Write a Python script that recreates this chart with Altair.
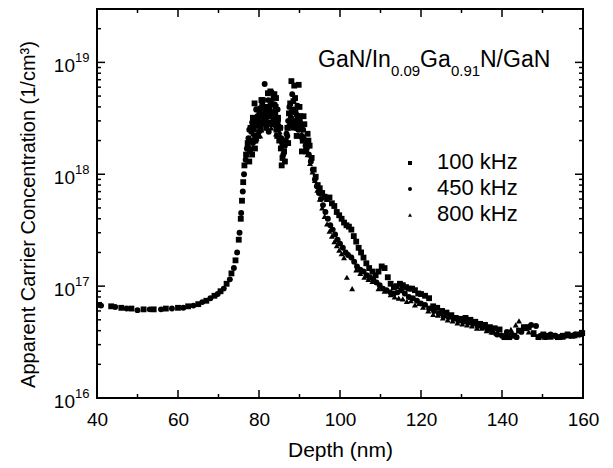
import altair as alt
import pandas as pd

FONT = "Liberation Sans"
W, H = 486, 389

series_names = ["100 kHz", "450 kHz", "800 kHz"]
series_shapes = ["square", "circle", "triangle-up"]

# 100 kHz (squares)
depth_100 = [40.5, 43.5, 46, 48.5, 51.5, 54, 57, 60, 62.5, 65, 67, 69, 70.5, 72, 73.2, 74.2, 75, 75.5, 75.8, 76.1,
             76.4, 76.8, 77.2, 77.6, 78, 78.3, 78.7, 79, 79.4, 79.7, 80.1, 80.4, 80.8, 81.1, 81.5, 81.8, 82.2, 82.5,
             82.9, 83.2, 83.6, 84, 84.3, 84.7, 85, 85.4, 85.8, 86.2, 86.6, 87, 87.4, 87.7, 88, 88.3, 88.7, 89, 89.3,
             89.7, 90, 90.4, 90.8, 91.2, 91.6, 92, 92.5, 93, 93.5, 94, 94.5, 95, 95.6, 96.2, 96.8, 97.4, 98, 98.6,
             99.2, 99.8, 100.4, 101, 101.6, 102.2, 102.8, 103.4, 104, 104.6, 105.2, 105.8, 106.5, 107.2, 108, 108.8,
             109.5, 110.3, 111, 111.8, 112.5, 113.3, 114, 114.8, 115.5, 116.3, 117, 117.8, 118.5, 119.3, 120, 121,
             122, 123, 124, 125.2, 126.3, 127.5, 128.6, 129.8, 131, 132.2, 133.4, 134.6, 135.8, 137, 138.2, 139.4,
             140.6, 141.8, 143, 144.2, 145.4, 146.6, 147.8, 149, 150.2, 151.4, 152.6, 153.8, 155, 156.2, 157.4,
             158.6, 159.8]
conc_100 = [6.8e16, 6.6e16, 6.4e16, 6.3e16, 6.2e16, 6.2e16, 6.3e16, 6.4e16, 6.6e16, 6.9e16, 7.4e16, 8.2e16, 9.0e16,
            1.05e17, 1.3e17, 1.7e17, 2.6e17, 4.0e17, 5.8e17, 8.5e17, 1.2e18, 1.5e18, 1.9e18, 1.3e18, 2.0e18, 1.5e18,
            2.5e18, 1.7e18, 3.0e18, 2.2e18, 3.6e18, 2.5e18, 4.2e18, 2.9e18, 3.8e18, 2.6e18, 5.3e18, 3.3e18, 4.5e18,
            2.8e18, 5.0e18, 3.5e18, 2.5e18, 3.2e18, 2.0e18, 1.7e18, 1.4e18, 1.6e18, 2.0e18, 2.6e18, 3.5e18, 4.3e18,
            6.8e18, 2.8e18, 6.2e18, 3.6e18, 2.2e18, 3.0e18, 4.0e18, 2.6e18, 2.0e18, 2.8e18, 1.6e18, 2.3e18, 1.8e18,
            1.4e18, 1.1e18, 9.5e17, 8.0e17, 7.5e17, 6.8e17, 6.3e17, 6.0e17, 6.2e17, 5.5e17, 5.2e17, 4.6e17, 4.3e17,
            4.0e17, 3.7e17, 3.5e17, 3.4e17, 3.2e17, 2.8e17, 2.5e17, 2.2e17, 2.0e17, 1.8e17, 1.6e17, 1.45e17, 1.35e17,
            1.25e17, 1.35e17, 1.5e17, 1.45e17, 1.2e17, 1.05e17, 9.8e16, 1.0e17, 1.05e17, 1.02e17, 9.8e16, 9.5e16,
            9.5e16, 9.2e16, 8.6e16, 8.5e16, 8.2e16, 7.8e16, 6.6e16, 6.4e16, 6.0e16, 5.8e16, 5.5e16, 5.2e16, 5.1e16,
            5.2e16, 5.0e16, 4.8e16, 4.6e16, 4.5e16, 4.3e16, 4.2e16, 4.1e16, 3.5e16, 3.5e16, 3.6e16, 4.0e16, 4.3e16,
            4.3e16, 3.8e16, 3.5e16, 3.7e16, 3.6e16, 3.6e16, 3.5e16, 3.6e16, 3.7e16, 3.6e16, 3.7e16, 3.8e16]
# extra 100 kHz points inside the dense peak
depth_100_peak = [77.3, 77.9, 78.5, 79.1, 79.6, 80.2, 80.6, 81.3, 81.9, 82.6, 83.3, 84.1, 84.5, 85.2, 85.6, 86.4,
                  87.2, 87.9, 88.5, 89.5, 90.2, 90.6, 91, 91.8, 92.2, 82.8, 83.8, 84.2, 88.9, 89.8, 78.9, 80.9]
conc_100_peak = [1.7e18, 2.6e18, 3.2e18, 2.0e18, 3.8e18, 2.9e18, 4.6e18, 3.3e18, 4.0e18, 3.8e18, 4.2e18, 4.0e18,
                 2.2e18, 2.6e18, 1.2e18, 1.3e18, 1.9e18, 3.0e18, 4.5e18, 3.3e18, 3.3e18, 1.6e18, 3.3e18, 1.9e18,
                 2.0e18, 5.5e18, 5.2e18, 4.8e18, 4.8e18, 6.3e18, 4.3e18, 4.6e18]

# 450 kHz (circles)
depth_450 = [41, 44.5, 47.3, 50, 53, 55.8, 58.5, 61.3, 63.8, 66, 68, 69.8, 71.3, 72.8, 73.8, 74.6, 75.2, 75.6, 76,
             76.3, 76.7, 77, 77.4, 77.8, 78.1, 78.5, 78.9, 79.2, 79.6, 80, 80.3, 80.7, 81, 81.4, 81.7, 82.1, 82.4,
             82.8, 83.1, 83.5, 83.9, 84.2, 84.6, 84.9, 85.3, 85.7, 86, 86.4, 86.8, 87.2, 87.5, 87.9, 88.2, 88.6,
             88.9, 89.3, 89.7, 90.1, 90.5, 90.9, 91.3, 91.8, 92.3, 92.8, 93.3, 93.8, 94.3, 94.8, 95.3, 95.8, 96.4,
             97, 97.6, 98.2, 98.8, 99.4, 100, 100.7, 101.4, 102, 102.8, 103.5, 104.2, 105, 105.8, 106.6, 107.4,
             108.2, 109, 109.8, 110.6, 111.5, 112.4, 113.3, 114.2, 115.1, 116, 117, 118, 119, 120, 121, 122, 123.2,
             124.4, 125.6, 126.8, 128, 129.2, 130.4, 131.6, 132.8, 134, 135.2, 136.4, 137.6, 138.8, 140, 141.2,
             142.4, 143.6, 144.8, 146, 147.2, 148.4, 149.6, 150.8, 152, 153.2, 154.4, 155.6, 156.8, 158, 159.2]
conc_450 = [6.7e16, 6.5e16, 6.3e16, 6.1e16, 6.2e16, 6.2e16, 6.3e16, 6.4e16, 6.7e16, 7.2e16, 7.8e16, 8.5e16, 9.5e16,
            1.15e17, 1.45e17, 2.0e17, 3.0e17, 4.5e17, 7.0e17, 1.0e18, 1.35e18, 1.7e18, 2.1e18, 1.6e18, 2.4e18, 1.9e18,
            2.8e18, 2.0e18, 3.3e18, 2.4e18, 3.9e18, 2.8e18, 4.6e18, 6.4e18, 3.1e18, 4.0e18, 2.4e18, 3.6e18, 5.4e18,
            3.0e18, 4.2e18, 2.7e18, 3.8e18, 2.2e18, 2.6e18, 1.9e18, 1.5e18, 1.8e18, 2.3e18, 3.0e18, 4.0e18, 3.2e18,
            5.2e18, 3.8e18, 2.9e18, 3.4e18, 2.5e18, 3.0e18, 2.2e18, 2.5e18, 2.0e18, 1.7e18, 1.5e18, 1.3e18, 1.1e18,
            9.0e17, 7.8e17, 6.8e17, 6.0e17, 5.3e17, 4.6e17, 4.0e17, 3.5e17, 3.2e17, 2.9e17, 2.6e17, 2.4e17, 2.2e17,
            2.0e17, 1.9e17, 1.8e17, 1.65e17, 1.5e17, 1.4e17, 1.35e17, 1.25e17, 1.2e17, 1.15e17, 1.08e17, 1.02e17,
            9.5e16, 9.2e16, 8.8e16, 8.6e16, 8.8e16, 9.2e16, 8.6e16, 8.0e16, 7.8e16, 7.4e16, 7.0e16, 6.8e16, 6.3e16,
            6.0e16, 5.7e16, 5.4e16, 5.3e16, 5.1e16, 4.9e16, 4.8e16, 4.7e16, 4.6e16, 4.4e16, 4.3e16, 4.1e16, 3.9e16,
            3.7e16, 3.6e16, 3.9e16, 3.7e16, 3.5e16, 3.9e16, 4.2e16, 4.5e16, 4.4e16, 3.6e16, 3.5e16, 3.7e16, 3.6e16,
            3.5e16, 3.6e16, 3.6e16, 3.7e16, 3.7e16]
depth_450_peak = [77.6, 78.3, 79, 79.8, 80.5, 81.2, 81.9, 82.6, 83.3, 84, 84.7, 85.5, 87, 87.7, 88.4, 89.1, 89.9,
                  90.7, 91.5, 79.3, 80.8, 82.3, 83.7, 88.0, 89.5]
conc_450_peak = [2.5e18, 2.9e18, 2.2e18, 2.7e18, 3.4e18, 3.0e18, 3.6e18, 2.9e18, 3.4e18, 3.2e18, 3.0e18, 2.1e18,
                 2.2e18, 2.7e18, 3.0e18, 2.6e18, 2.8e18, 2.1e18, 1.8e18, 3.8e18, 3.3e18, 4.6e18, 3.6e18, 3.6e18,
                 4.1e18]

# 800 kHz (triangles)
depth_800 = [77, 77.6, 78.2, 78.8, 79.4, 80, 80.6, 81.2, 81.8, 82.4, 83, 83.6, 84.2, 84.8, 85.4, 86, 86.6, 87.2, 87.8,
             88.4, 89, 89.6, 90.2, 90.8, 91.4, 92, 92.6, 93.2, 93.8, 94.4, 95, 95.6, 96.2, 96.8, 97.4, 98, 98.6,
             99.2, 99.8, 100.4, 101, 101.7, 103, 104, 105, 106, 107, 108, 109.5, 111, 112.5, 113.5, 114.5, 115.5,
             116.5, 117.5, 118.5, 119.5, 120.5, 121.8, 123, 124.2, 125.4, 126.6, 127.8, 129, 130.2, 131.4, 132.6,
             133.8, 135, 136.2, 137.4, 138.6, 139.8, 141, 142.2, 143.4, 144.2, 145.4, 146.6, 147.8, 149, 150.5, 152,
             153.5, 155, 156.5, 158, 159.5]
conc_800 = [1.5e18, 2.0e18, 1.7e18, 2.6e18, 2.1e18, 3.2e18, 2.5e18, 3.6e18, 2.9e18, 4.2e18, 2.6e18, 3.5e18, 2.3e18,
            2.9e18, 1.8e18, 1.4e18, 1.9e18, 2.6e18, 3.4e18, 2.6e18, 3.0e18, 2.2e18, 2.5e18, 2.0e18, 1.7e18, 1.5e18,
            1.25e18, 1.05e18, 8.8e17, 7.2e17, 6.0e17, 5.0e17, 4.2e17, 3.6e17, 3.1e17, 2.8e17, 2.5e17, 2.3e17, 2.1e17,
            1.95e17, 1.8e17, 1.2e17, 9.5e16, 1.4e17, 1.3e17, 1.2e17, 1.15e17, 1.1e17, 9.5e16, 9.0e16, 8.4e16, 8.0e16,
            7.8e16, 7.7e16, 7.3e16, 7.4e16, 6.8e16, 7.0e16, 6.5e16, 6.0e16, 5.6e16, 5.5e16, 5.2e16, 5.0e16, 4.9e16,
            4.7e16, 4.6e16, 4.5e16, 4.4e16, 4.2e16, 4.2e16, 4.0e16, 3.9e16, 3.8e16, 3.7e16, 3.8e16, 4.1e16, 4.5e16,
            4.9e16, 4.2e16, 3.9e16, 3.7e16, 3.6e16, 3.5e16, 3.5e16, 3.6e16, 3.5e16, 3.6e16, 3.6e16, 3.7e16]
depth_800_peak = [77.3, 78.5, 79.7, 80.3, 81.5, 82.1, 82.7, 83.3, 83.9, 84.5, 85.1, 87.5, 88.1, 88.7, 89.3, 89.9,
                  90.5, 91.1]
conc_800_peak = [1.8e18, 2.3e18, 2.8e18, 2.2e18, 3.1e18, 2.6e18, 3.3e18, 3.0e18, 2.9e18, 2.6e18, 2.4e18, 2.9e18,
                 3.3e18, 2.9e18, 2.6e18, 2.8e18, 2.3e18, 2.2e18]

x_major = [40, 60, 80, 100, 120, 140, 160]
x_minor = [50, 70, 90, 110, 130, 150]
y_major = [1e16, 1e17, 1e18, 1e19]
y_exp = ["16", "17", "18", "19"]
y_minor = [m * 10.0 ** e for e in (16, 17, 18) for m in range(2, 10)] + [2e19, 3e19]

rows = []
groups = [
    (series_names[0], depth_100 + depth_100_peak, conc_100 + conc_100_peak),
    (series_names[1], depth_450 + depth_450_peak, conc_450 + conc_450_peak),
    (series_names[2], depth_800 + depth_800_peak, conc_800 + conc_800_peak),
]
for name, ds, cs in groups:
    for d, c in zip(ds, cs):
        rows.append({"depth": d, "conc": c, "series": name})
df = pd.DataFrame(rows)

xs = alt.Scale(domain=[40, 160], nice=False, zero=False)
ys = alt.Scale(type="log", domain=[1e16, 3e19], nice=False)

xaxis = alt.Axis(orient="bottom", values=x_major, grid=False, ticks=False, tickSize=0, domain=False,
                 labelFontSize=19, labelColor="black", labelFont=FONT, labelPadding=12,
                 labelFlush=False, title="Depth (nm)", titleFontSize=21, titleFont=FONT,
                 titleFontWeight="normal", titleColor="black", titleY=41, titleBaseline="top")
yaxis = alt.Axis(orient="left", labels=False, ticks=False, domain=False, grid=False,
                 title="Apparent Carrier Concentration (1/cm³)", titleFontSize=20, titleFont=FONT,
                 titleFontWeight="normal", titleColor="black", titleX=-69, titleY=205,
                 titleAngle=270, titleAlign="center", titleBaseline="middle")

points = alt.Chart(df).mark_point(filled=True, opacity=1, color="black", strokeWidth=0).encode(
    x=alt.X("depth:Q", scale=xs, axis=xaxis),
    y=alt.Y("conc:Q", scale=ys, axis=yaxis),
    shape=alt.Shape("series:N", scale=alt.Scale(domain=series_names, range=series_shapes), legend=None),
    size=alt.Size("series:N", scale=alt.Scale(domain=series_names, range=[34, 36, 38]), legend=None),
)

def xticks(vals, length, top):
    y1 = 0 if top else H
    y2 = length if top else H - length
    return alt.Chart(pd.DataFrame({"v": vals})).mark_rule(color="black", strokeWidth=1.5).encode(
        x=alt.X("v:Q", scale=xs, axis=xaxis), y=alt.value(y1), y2=alt.value(y2))

def yticks(vals, length, right):
    x1 = W if right else 0
    x2 = W - length if right else length
    return alt.Chart(pd.DataFrame({"v": vals})).mark_rule(color="black", strokeWidth=1.5).encode(
        y=alt.Y("v:Q", scale=ys, axis=yaxis), x=alt.value(x1), x2=alt.value(x2))

ticks = [xticks(x_major, 8, False), xticks(x_minor, 4, False), xticks(x_major, 8, True), xticks(x_minor, 4, True),
         yticks(y_major, 8, False), yticks(y_minor, 4, False), yticks(y_major, 8, True), yticks(y_minor, 4, True)]

ylab_df = pd.DataFrame({"v": y_major, "exp": y_exp})
ylab_base = alt.Chart(ylab_df).mark_text(align="right", baseline="middle", dy=4, fontSize=19, font=FONT,
                                         color="black").encode(
    y=alt.Y("v:Q", scale=ys, axis=yaxis), x=alt.value(-22), text=alt.value("10"))
ylab_exp = alt.Chart(ylab_df).mark_text(align="left", baseline="middle", dy=-4, fontSize=13, font=FONT,
                                        color="black").encode(
    y=alt.Y("v:Q", scale=ys, axis=yaxis), x=alt.value(-22), text="exp:N")

# composition label: GaN/In(0.09)Ga(0.91)N/GaN
title_parts = ["GaN/In", "0.09", "Ga", "0.91", "N/GaN"]
title_x = [221, 294, 323, 354, 383]
title_sub = [False, True, False, True, False]
title_layers = []
for t, xp, sub in zip(title_parts, title_x, title_sub):
    title_layers.append(
        alt.Chart(pd.DataFrame({"t": [t]})).mark_text(
            align="left", baseline="alphabetic", fontSize=15 if sub else 23, font=FONT, color="black"
        ).encode(x=alt.value(xp), y=alt.value(67 if sub else 57.5), text="t:N"))

# legend
leg_df = pd.DataFrame({"series": series_names})
leg_y = [153, 179, 205]
leg_layers = []
for name, yy in zip(series_names, leg_y):
    one = leg_df[leg_df.series == name]
    leg_layers.append(alt.Chart(one).mark_point(filled=True, opacity=1, color="black", size=16).encode(
        x=alt.value(313), y=alt.value(yy + 1),
        shape=alt.Shape("series:N", scale=alt.Scale(domain=series_names, range=series_shapes), legend=None)))
    leg_layers.append(alt.Chart(one).mark_text(align="left", baseline="middle", fontSize=22, font=FONT,
                                               color="black").encode(
        x=alt.value(340), y=alt.value(yy), text="series:N"))

chart = alt.layer(*ticks, ylab_base, ylab_exp, *title_layers, *leg_layers, points).properties(
    width=W, height=H,
    padding={"left": 89, "top": 1, "right": 22, "bottom": 68},
    autosize=alt.AutoSizeParams(type="none"),
    background="white",
).configure_view(stroke="black", strokeWidth=2)

chart.save("out.html", embed_options={"renderer": "svg", "actions": False})
